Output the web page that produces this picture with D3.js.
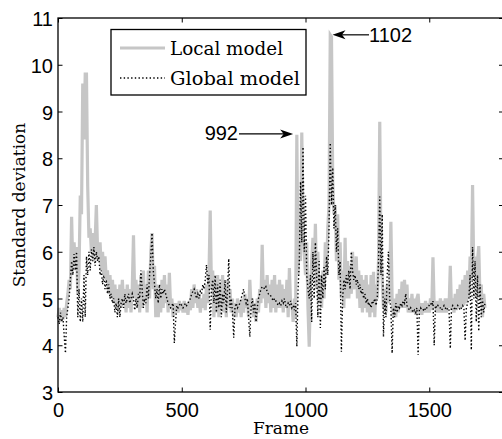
<!DOCTYPE html>
<html><head><meta charset="utf-8">
<script src="https://cdn.jsdelivr.net/npm/d3@7"></script>
<style>html,body{margin:0;padding:0;background:#fff;}svg{display:block;}</style>
</head><body>
<svg id="chart" width="502" height="439"></svg>
<script>
// ---- data (frames are index * frameStep) ----
const frameStep = 5;
const localValues = [
4.6,4.8,4.5,4.75,4.55,4.8,4.6,4.9,5.1,5.4,5.2,6.75,5.6,6.2,5.7,6.1,5.1,5.6,7.2,6.8,
9.6,8.4,9.8,9.8,7.4,6.3,6.5,6.0,6.4,5.8,6.2,7.0,6.0,5.8,6.2,5.6,6.0,5.5,5.9,5.4,
5.6,5.1,5.5,5.0,5.4,4.9,5.3,4.8,5.2,4.7,5.3,4.8,5.4,4.9,5.2,4.7,5.3,4.8,5.2,4.7,
5.2,6.35,5.0,5.4,4.8,5.3,4.7,5.5,4.8,5.6,4.9,5.3,4.7,5.6,5.0,6.0,6.4,5.2,5.7,4.6,
5.3,4.6,5.2,4.7,5.4,4.8,5.5,4.9,5.3,4.7,5.55,4.8,5.0,4.6,4.9,4.7,4.9,4.7,4.95,4.75,
4.9,4.7,4.95,4.7,4.9,4.65,4.95,4.75,5.2,4.8,5.3,4.9,5.2,4.8,5.1,4.7,5.0,4.8,5.1,4.75,
5.3,4.9,5.5,6.88,5.2,5.6,4.6,5.4,4.7,5.5,4.6,5.3,4.8,5.5,4.7,5.3,4.6,5.4,4.8,5.2,
4.7,5.0,4.6,4.9,4.6,5.0,4.7,4.95,4.6,5.0,4.7,5.1,4.8,5.0,4.6,5.4,4.8,5.0,4.6,4.9,
4.5,5.0,4.7,5.2,4.9,6.15,5.0,5.4,4.8,5.5,4.9,5.3,4.7,5.4,4.8,5.5,4.7,5.3,4.8,5.4,
4.8,5.3,4.7,5.2,4.8,5.4,4.6,5.65,4.8,4.9,4.5,5.0,4.6,8.5,5.5,6.5,5.8,8.55,6.5,6.0,
5.5,6.2,4.8,3.97,5.2,5.8,6.3,5.6,6.6,5.2,6.0,4.9,5.5,4.8,5.6,5.0,6.2,5.5,6.5,7.0,
10.64,10.6,7.5,6.8,7.0,5.8,6.8,5.4,6.2,5.0,5.6,4.8,6.3,5.0,5.8,5.0,5.7,5.1,6.0,5.2,
5.3,5.9,5.0,5.6,4.8,5.5,4.7,5.4,4.8,5.5,4.7,5.3,4.6,5.5,4.7,5.57,4.6,5.3,5.0,5.8,
8.78,6.0,5.4,4.8,5.2,4.7,5.3,4.9,5.3,6.64,5.0,4.6,5.0,4.6,5.1,4.7,5.2,4.8,5.36,4.8,
5.4,4.8,5.3,4.7,5.0,4.7,5.1,4.7,5.0,4.65,5.0,5.1,4.7,4.9,4.65,4.9,4.7,4.95,4.7,4.9,
4.7,5.0,4.75,5.88,4.8,4.95,4.7,4.95,4.7,5.0,4.7,4.95,4.7,5.0,4.7,5.0,4.8,5.7,4.75,5.0,
4.7,5.1,4.75,5.2,4.8,5.3,4.8,5.4,4.85,5.5,4.9,5.6,5.0,5.9,5.4,7.43,5.5,5.9,5.0,5.8,
6.12,5.0,5.3,4.6,5.1,4.8
];
const globalValues = [
4.6,4.45,4.7,4.5,4.6,4.2,3.83,4.6,4.8,5.0,5.4,5.8,5.5,5.95,5.6,6.0,4.6,5.2,4.5,5.0,
4.5,5.5,4.6,5.9,5.5,6.0,5.6,6.05,5.8,6.1,5.7,6.0,5.8,5.9,5.5,5.6,5.3,5.5,5.2,5.4,
5.1,5.3,5.0,5.1,4.9,5.0,4.7,4.9,4.6,5.0,4.6,4.9,5.0,4.8,5.1,4.9,5.0,5.1,4.9,5.0,
5.1,5.0,4.75,5.0,4.8,5.1,5.0,5.6,5.2,4.8,5.0,4.9,5.3,5.0,5.5,5.9,6.4,5.6,5.3,5.0,
5.2,4.9,5.3,5.0,5.2,5.1,5.2,5.1,5.0,4.9,4.85,4.8,4.85,4.9,4.05,4.5,4.85,4.8,4.85,4.9,
4.85,4.8,4.85,4.9,4.85,4.9,4.95,5.0,5.1,5.15,5.2,5.1,5.0,5.1,5.0,5.15,5.1,5.3,5.2,5.4,
5.72,5.3,5.5,4.33,5.2,5.4,4.9,5.5,4.7,5.3,4.8,5.4,4.6,5.1,4.9,5.4,4.7,5.2,5.85,4.8,
5.0,4.7,4.16,4.8,4.9,4.8,4.85,4.9,5.0,5.1,5.2,5.0,4.9,5.0,4.6,4.18,4.8,5.0,4.7,4.9,
4.5,4.8,5.0,5.1,5.2,5.25,5.25,5.2,5.25,5.15,5.1,5.1,5.05,5.0,4.95,5.0,4.95,4.9,4.85,4.9,
4.85,4.95,4.9,5.0,4.85,4.8,4.9,4.85,4.95,4.8,4.85,4.75,4.9,3.97,5.2,5.8,7.5,6.2,8.24,6.0,
7.2,5.5,5.2,5.0,5.5,4.5,6.0,5.0,6.2,5.5,4.6,5.8,4.37,5.5,5.0,5.7,5.2,5.9,5.5,6.5,
8.33,7.0,7.8,6.5,7.0,6.0,6.5,5.5,5.8,3.86,5.0,5.4,5.2,5.5,5.3,5.6,5.2,6.0,5.6,5.4,
5.5,5.3,5.4,5.2,5.3,5.1,5.2,5.0,5.1,4.9,5.0,4.85,4.9,4.8,4.95,4.9,5.0,4.85,5.0,5.8,
7.18,5.5,6.8,4.18,5.0,4.6,5.5,6.0,5.0,4.8,3.83,4.8,4.6,4.9,4.7,4.85,4.8,4.9,4.85,4.95,
4.9,5.1,4.85,4.8,4.75,4.8,4.75,4.7,4.75,4.7,4.8,3.79,4.75,4.8,4.75,4.75,4.8,4.75,4.8,4.85,
4.85,4.9,4.85,4.95,4.0,4.85,4.8,4.85,4.8,4.8,4.75,4.8,4.85,4.8,4.75,4.8,4.75,3.93,4.8,4.85,
4.8,4.75,4.8,4.85,4.8,4.75,4.8,4.85,4.8,4.1,4.8,4.9,5.0,5.5,3.9,6.1,5.0,5.8,4.5,5.5,
4.3,5.3,4.6,5.0,4.7,4.9
];
const xTicks = [0, 500, 1000, 1500];
const yTicks = [3, 4, 5, 6, 7, 8, 9, 10, 11];
const seriesNames = ["Local model", "Global model"];
const xLabel = "Frame";
const yLabel = "Standard deviation";
const annotationLabels = ["992", "1102"];
const annotationTips = [[950, 8.52], [1109, 10.64]];

// ---- layout ----
const svg = d3.select("#chart");
const x = d3.scaleLinear().domain([0, 1800]).range([58, 503.5]);
const y = d3.scaleLinear().domain([3, 11]).range([392, 18]);
const sans = "'Liberation Sans', Arial, sans-serif";
const serif = "'DejaVu Serif', serif";

const toPts = vals => vals.map((v, i) => [i * frameStep, v]);
const line = d3.line().x(d => x(d[0])).y(d => y(d[1]));

svg.append("path").datum(toPts(localValues))
  .attr("d", line).attr("fill", "none")
  .attr("stroke", "#c6c6c6").attr("stroke-width", 3.2).attr("stroke-linejoin", "miter");
svg.append("path").datum(toPts(globalValues))
  .attr("d", line).attr("fill", "none")
  .attr("stroke", "#000").attr("stroke-width", 1.4).attr("stroke-dasharray", "1.4 2.3");

// axes box
const px0 = x.range()[0], px1 = x.range()[1], py0 = y.range()[0], py1 = y.range()[1];
svg.append("rect").attr("x", px0).attr("y", py1).attr("width", px1 - px0).attr("height", py0 - py1)
  .attr("fill", "none").attr("stroke", "#000").attr("stroke-width", 1.3);

// bottom axis
const gBottom = svg.append("g").attr("transform", `translate(0,${py0})`)
  .call(d3.axisBottom(x).tickValues(xTicks).tickSize(-4.5).tickPadding(0).tickFormat(d3.format("d")));
gBottom.select(".domain").remove();
gBottom.selectAll("text").attr("font-family", sans).attr("font-size", 20).attr("fill", "#000")
  .attr("y", 25).attr("dy", 0);

// top ticks
const gTop = svg.append("g").attr("transform", `translate(0,${py1})`)
  .call(d3.axisTop(x).tickValues(xTicks).tickSize(-4.5).tickFormat(""));
gTop.select(".domain").remove();

// left axis
const gLeft = svg.append("g").attr("transform", `translate(${px0},0)`)
  .call(d3.axisLeft(y).tickValues(yTicks).tickSize(-4.5).tickPadding(0).tickFormat(d3.format("d")));
gLeft.select(".domain").remove();
gLeft.selectAll("text").attr("font-family", sans).attr("font-size", 20).attr("fill", "#000")
  .attr("x", -5).attr("dy", "0.38em");

// right ticks
const gRight = svg.append("g").attr("transform", `translate(${px1},0)`)
  .call(d3.axisRight(y).tickValues(yTicks).tickSize(-4.5).tickFormat(""));
gRight.select(".domain").remove();

// axis labels
svg.append("text").attr("x", 281).attr("y", 434).attr("text-anchor", "middle")
  .attr("font-family", serif).attr("font-size", 17).text(xLabel);
svg.append("text").attr("transform", `translate(24.5,${(py0 + py1) / 2}) rotate(-90)`)
  .attr("text-anchor", "middle").attr("font-family", serif).attr("font-size", 17).text(yLabel);

// legend
const lg = svg.append("g");
lg.append("rect").attr("x", 111).attr("y", 29.5).attr("width", 195).attr("height", 65.5)
  .attr("fill", "#fff").attr("stroke", "#000").attr("stroke-width", 1.3);
lg.append("line").attr("x1", 120).attr("x2", 165).attr("y1", 48).attr("y2", 48)
  .attr("stroke", "#c6c6c6").attr("stroke-width", 3.2);
lg.append("line").attr("x1", 120).attr("x2", 165).attr("y1", 78).attr("y2", 78)
  .attr("stroke", "#000").attr("stroke-width", 1.4).attr("stroke-dasharray", "1.4 2.3");
lg.append("text").attr("x", 170).attr("y", 55).attr("font-family", serif).attr("font-size", 18)
  .attr("textLength", 113).attr("lengthAdjust", "spacingAndGlyphs").text(seriesNames[0]);
lg.append("text").attr("x", 170).attr("y", 84.5).attr("font-family", serif).attr("font-size", 18)
  .attr("textLength", 130).attr("lengthAdjust", "spacingAndGlyphs").text(seriesNames[1]);

// annotations (arrows)
function arrow(tipX, tipY, tailX, dir) {
  svg.append("line").attr("x1", tailX).attr("x2", tipX - dir * 8).attr("y1", tipY).attr("y2", tipY)
    .attr("stroke", "#000").attr("stroke-width", 1.2);
  const L = 13, W = 4.5, B = 9.5;
  svg.append("path").attr("d",
    `M${tipX},${tipY} L${tipX - dir * L},${tipY - W} L${tipX - dir * B},${tipY} L${tipX - dir * L},${tipY + W} Z`)
    .attr("fill", "#000");
}
{
  const tx = x(annotationTips[0][0]), ty = y(annotationTips[0][1]);
  arrow(tx, ty, 239, 1);
  svg.append("text").attr("x", 238).attr("y", ty + 6.5).attr("text-anchor", "end")
    .attr("font-family", sans).attr("font-size", 20).text(annotationLabels[0]);
}
{
  const tx = x(annotationTips[1][0]), ty = y(annotationTips[1][1]);
  arrow(tx, ty, 369, -1);
  svg.append("text").attr("x", 369).attr("y", ty + 7.5).attr("text-anchor", "start")
    .attr("font-family", sans).attr("font-size", 20).text(annotationLabels[1]);
}
</script>
</body></html>
